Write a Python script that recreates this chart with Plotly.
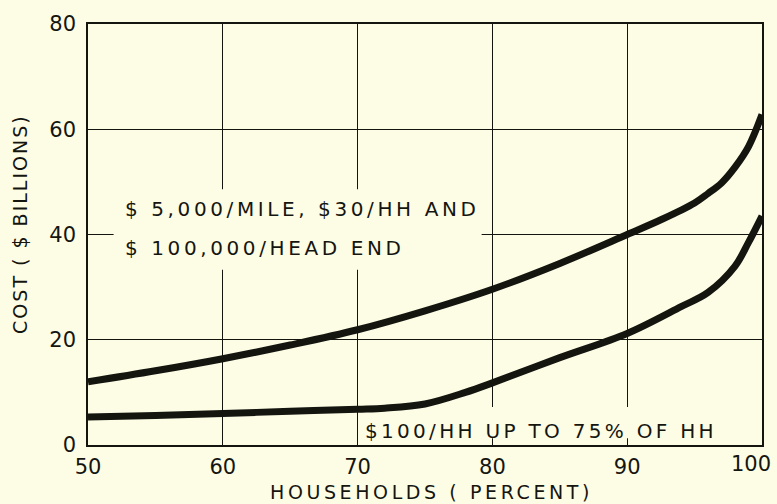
import plotly.graph_objects as go

# Households served (percent) and cumulative cost ($ billions)
households = [50, 55, 60, 65, 70, 75, 80, 85, 90, 92.5, 95, 96, 97, 98, 99, 100]
cost_mile_hh_headend = [12.0, 14.1, 16.4, 19.0, 21.9, 25.5, 29.6, 34.5, 40.0, 42.8,
                        46.0, 47.8, 49.8, 52.8, 56.7, 62.8]
households_low = [50, 55, 60, 65, 70, 72, 75, 78, 80, 85, 90, 94, 96, 98, 99, 100]
cost_100_per_hh = [5.3, 5.6, 6.0, 6.4, 6.8, 7.0, 7.8, 10.0, 11.8, 16.6,
                   21.2, 26.3, 29.0, 34.0, 38.5, 43.5]

x_ticks = [50, 60, 70, 80, 90, 100]
y_ticks = [0, 20, 40, 60, 80]

label_upper_1 = "$ 5,000/MILE, $30/HH AND"
label_upper_2 = "$ 100,000/HEAD END"
label_lower = "$100/HH UP TO 75% OF HH"
x_title = "HOUSEHOLDS ( PERCENT)"
y_title = "COST ( $ BILLIONS)"

PAPER = "#fdfde6"
INK = "#151510"
FONT = "DejaVu Sans"


def spaced(text, px):
    """Wrap text in a span with extra letter spacing (stencil-style lettering)."""
    return f'<span style="letter-spacing:{px}px">{text}</span>'


fig = go.Figure()
fig.add_trace(go.Scatter(
    x=households, y=cost_mile_hh_headend, mode="lines",
    line=dict(color=INK, width=7, shape="spline", smoothing=1.0),
    hoverinfo="skip", showlegend=False))
fig.add_trace(go.Scatter(
    x=households_low, y=cost_100_per_hh, mode="lines",
    line=dict(color=INK, width=7, shape="spline", smoothing=1.0),
    hoverinfo="skip", showlegend=False))

# blank panels behind the lettering so grid lines stop around the text
for x0, x1, y0, y1 in [(51.9, 79.2, 33.3, 48.6), (70.3, 97.0, 1.3, 7.2)]:
    fig.add_shape(type="rect", xref="x", yref="y", x0=x0, x1=x1, y0=y0, y1=y1,
                  fillcolor=PAPER, line=dict(width=0), layer="between")

text_font = dict(family=FONT, size=20, color=INK)
fig.add_annotation(x=52.6, y=44.8, text=spaced(label_upper_1, 3.6), showarrow=False,
                   xanchor="left", yanchor="middle", font=text_font)
fig.add_annotation(x=52.6, y=37.5, text=spaced(label_upper_2, 3.6), showarrow=False,
                   xanchor="left", yanchor="middle", font=text_font)
fig.add_annotation(x=70.4, y=2.6, text=spaced(label_lower, 3.3), showarrow=False,
                   xanchor="left", yanchor="middle", font=text_font)

fig.add_annotation(xref="paper", yref="paper", x=0.51, y=-0.111,
                   text=spaced(x_title, 3.6), showarrow=False,
                   xanchor="center", yanchor="middle",
                   font=dict(family=FONT, size=19, color=INK))
fig.add_annotation(xref="paper", yref="paper", x=-0.101, y=0.525,
                   text=spaced(y_title, 2.0), showarrow=False,
                   xanchor="center", yanchor="middle", textangle=-90,
                   font=dict(family=FONT, size=19, color=INK))

# the last x label sits flush with the right edge, so it is placed inside the page
tick_font = dict(family=FONT, size=21, color=INK)
fig.add_annotation(x=x_ticks[-1], y=0, xref="x", yref="y", text=str(x_ticks[-1]),
                   showarrow=False, xanchor="center", yanchor="top",
                   xshift=-11, yshift=-5, font=tick_font)

axis_common = dict(
    showgrid=True, gridcolor=INK, gridwidth=1.4,
    showline=True, linecolor=INK, linewidth=1.6, mirror=True,
    zeroline=False, ticks="", tickfont=tick_font,
)
fig.update_xaxes(range=[50, 100], tickvals=x_ticks,
                 ticktext=[str(v) for v in x_ticks[:-1]] + [""],
                 ticklabelstandoff=2, **axis_common)
fig.update_yaxes(range=[0, 80], tickvals=y_ticks, ticktext=[str(v) for v in y_ticks],
                 ticklabelstandoff=6, **axis_common)

fig.update_layout(
    width=777, height=504,
    margin=dict(l=88, r=15, t=21, b=59),
    paper_bgcolor=PAPER, plot_bgcolor=PAPER,
    font=dict(family=FONT, color=INK),
)

fig.write_html("out.html")
